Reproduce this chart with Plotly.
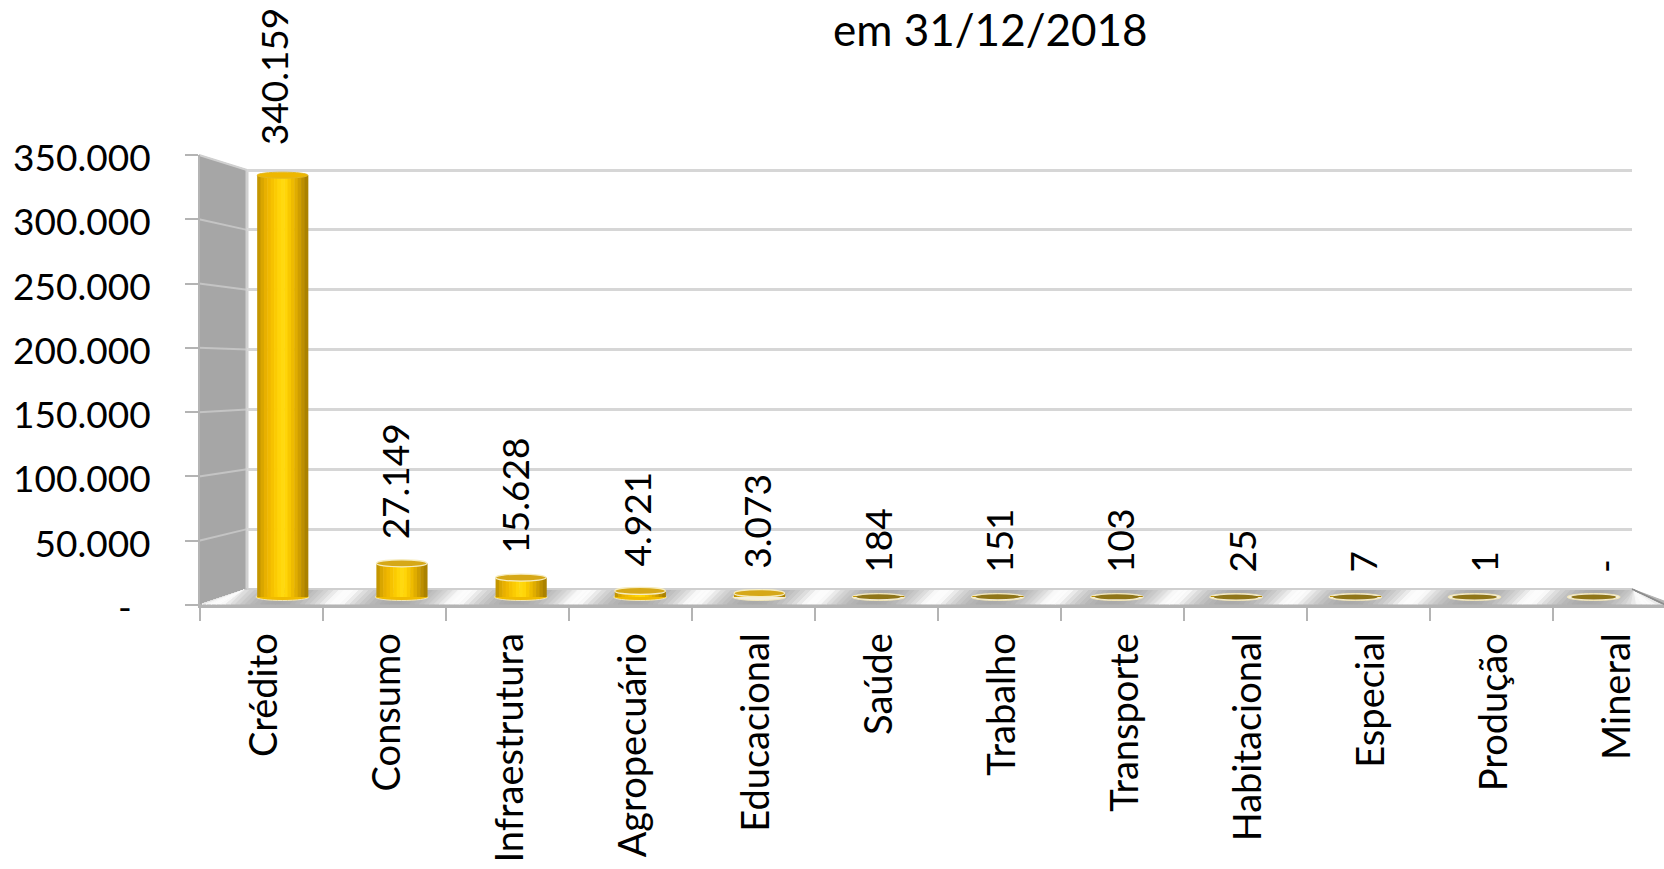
import plotly.graph_objects as go

W, H = 1664, 869
FONT = "Lato"

categories = ["Crédito", "Consumo", "Infraestrutura", "Agropecuário", "Educacional", "Saúde",
              "Trabalho", "Transporte", "Habitacional", "Especial", "Produção", "Mineral"]
values = [340159, 27149, 15628, 4921, 3073, 184, 151, 103, 25, 7, 1, 0]
value_labels = ["340.159", "27.149", "15.628", "4.921", "3.073", "184", "151", "103", "25", "7", "1", "-"]
y_ticks = [0, 50000, 100000, 150000, 200000, 250000, 300000, 350000]
y_tick_labels = ["-\u00a0\u00a0", "50.000", "100.000", "150.000", "200.000", "250.000", "300.000", "350.000"]
title = "em 31/12/2018"

# cylinder shading, left to right
strip_colors = ["#c49600", "#d9a600", "#e8b000", "#f0b800", "#f6c200", "#fbcb02", "#ffd408", "#ffd90f",
                "#ffd508", "#f8c800", "#eebb00", "#e0ad00", "#cf9e00", "#bd8f00", "#ab8200"]
BAR_W = 0.425


def px(x):
    return x / W


def py(y):
    return 1 - y / H


def poly(points, fill, line=None, lw=1, layer="below"):
    d = "M" + " L".join(f"{px(x):.5f},{py(y):.5f}" for x, y in points) + " Z"
    return dict(type="path", xref="paper", yref="paper", path=d, fillcolor=fill, layer=layer,
                line=dict(color=line or fill, width=lw))


def seg(x0, y0, x1, y1, color, lw):
    return dict(type="line", xref="paper", yref="paper", x0=px(x0), y0=py(y0), x1=px(x1), y1=py(y1),
                layer="below", line=dict(color=color, width=lw))


def mix(a, b, t):
    return "#" + "".join(f"{round(a[i] + (b[i] - a[i]) * t):02x}" for i in range(3))


shapes = []
# left wall
FRONT_TOP, FRONT_BOT, BACK_TOP, BACK_BOT = 155, 605, 170, 589
WALL_L, WALL_R, FLOOR_R = 199, 247, 1632
shapes.append(poly([(WALL_L, FRONT_TOP), (WALL_R, BACK_TOP), (WALL_R, BACK_BOT), (WALL_L, FRONT_BOT)], "#a6a6a6"))
for k in range(1, 7):
    yf = FRONT_BOT - (FRONT_BOT - FRONT_TOP) * k / 7
    yb = BACK_BOT - (BACK_BOT - BACK_TOP) * k / 7
    shapes.append(seg(WALL_L, yf, WALL_R, yb, "#c4c4c4", 2))
shapes.append(seg(WALL_L, FRONT_TOP, WALL_R, BACK_TOP, "#d0d0d0", 2))
shapes.append(seg(WALL_R, BACK_TOP, WALL_R, BACK_BOT, "#d0d0d0", 3))

# floor
BAR_X0, BAR_STEP = 282.5, 119.2
shapes.append(poly([(WALL_L, FRONT_BOT), (WALL_R, BACK_BOT), (FLOOR_R, BACK_BOT), (1680, FRONT_BOT + 2)], "#b4b4b4"))
SLANT = 14
grey, white = (170, 170, 170), (252, 252, 252)
N = 12
for i in range(-1, 12):
    centre = BAR_X0 + BAR_STEP * (i + 0.5)
    half = BAR_STEP / 2
    for s in range(-N, N):
        t0, t1 = s / N, (s + 1) / N
        a = 1 - abs((t0 + t1) / 2)
        xa, xb = centre + t0 * half, centre + t1 * half
        pts = [(xa - SLANT / 2, FRONT_BOT - 1), (xa + SLANT / 2, BACK_BOT + 1),
               (xb + SLANT / 2, BACK_BOT + 1), (xb - SLANT / 2, FRONT_BOT - 1)]
        pts = [(max(x, WALL_L + (FRONT_BOT - y) * 3), y) for x, y in pts]
        pts = [(min(x, FLOOR_R + (y - BACK_BOT) * 2.1), y) for x, y in pts]
        shapes.append(poly(pts, mix(grey, white, min(1, a ** 2 * 1.25))))
shapes.append(seg(WALL_R, BACK_BOT, FLOOR_R, BACK_BOT, "#cfcfcf", 2))
shapes.append(seg(FLOOR_R, BACK_BOT, 1670, FRONT_BOT + 2, "#8c8c8c", 1.5))

# cylinder ends
for i, v in enumerate(values):
    big = v > 4000
    shapes.append(dict(type="circle", xref="x2", yref="y3", x0=i - BAR_W / 2 - 0.01, x1=i + BAR_W / 2 + 0.01,
                       ysizemode="pixel", yanchor=0, y0=-3.5, y1=3.5, layer="below",
                       fillcolor="#f0bb00" if big else "#f4efdc", line=dict(color="#f3e7b8", width=1)))
    if v > 100000:
        shapes.append(dict(type="circle", xref="x2", yref="y3", x0=i - BAR_W / 2, x1=i + BAR_W / 2,
                           ysizemode="pixel", yanchor=v, y0=-3, y1=3, layer="above",
                           fillcolor="#eeb700", line=dict(color="#e4b820", width=1)))
    elif v > 1000:
        shapes.append(dict(type="circle", xref="x2", yref="y3", x0=i - BAR_W / 2, x1=i + BAR_W / 2,
                           ysizemode="pixel", yanchor=v, y0=-3.5, y1=3.5, layer="above",
                           fillcolor="#d6a818", line=dict(color="#f6ecc0", width=1.2)))
    else:
        shapes.append(dict(type="circle", xref="x2", yref="y3", x0=i - BAR_W / 2 + 0.025, x1=i + BAR_W / 2 - 0.025,
                           ysizemode="pixel", yanchor=v, y0=-2.5, y1=2.5, layer="above",
                           fillcolor="#8f7518", line=dict(color="#8f7518", width=0)))

fig = go.Figure()

# front axis (labels and ticks), back wall gridlines and label axis carry no visible marks
for xa, ya in (("x", "y"), ("x2", "y2"), ("x3", "y3")):
    fig.add_trace(go.Scatter(x=categories, y=values, xaxis=xa, yaxis=ya, mode="markers",
                             marker=dict(opacity=0), hoverinfo="skip", showlegend=False))

n = len(strip_colors)
sw = BAR_W / n
for k, c in enumerate(strip_colors):
    fig.add_trace(go.Bar(x=categories, y=values, xaxis="x2", yaxis="y3", width=sw * 1.15,
                         offset=-BAR_W / 2 + k * sw, marker=dict(color=c, line=dict(width=0)),
                         hoverinfo="skip", showlegend=False))

annotations = [dict(x=i, y=v, xref="x3", yref="y3", text=t, textangle=-90, showarrow=False,
                    yanchor="bottom", xanchor="center", yshift=28 if v == values[0] else 22,
                    font=dict(family=FONT, size=37, color="#000000"))
               for i, (v, t) in enumerate(zip(values, value_labels))]
annotations.append(dict(x=990 / W, y=py(29), xref="paper", yref="paper", text=title, showarrow=False,
                        xanchor="center", yanchor="middle", font=dict(family=FONT, size=44, color="#000000")))

AX_GREY = "#b4b4b4"
BAR_ZERO, BAR_TOP, BAR_LOW = 597, 163, 612
bar_unit = 350000 / (BAR_ZERO - BAR_TOP)
back_unit = 350000 / (BACK_BOT - BACK_TOP)
BACK_PAD = 4

fig.update_layout(
    width=W, height=H, margin=dict(l=0, r=0, t=0, b=0, autoexpand=False), paper_bgcolor="white",
    plot_bgcolor="rgba(0,0,0,0)",
    barmode="overlay", showlegend=False, font=dict(family=FONT, color="#000000"),
    xaxis=dict(type="category", categoryorder="array", categoryarray=categories, domain=[px(200), 1],
               range=[-0.5, (W - 200) / 123 - 0.5], anchor="y", tickson="boundaries", ticks="outside", ticklen=13,
               tickwidth=2, tickcolor=AX_GREY, showline=True, linecolor=AX_GREY, linewidth=3, showgrid=False,
               tickangle=-90, tickfont=dict(family=FONT, size=38, color="#000000"), ticklabelstandoff=10,
               ticklabelshift=3),
    yaxis=dict(domain=[py(FRONT_BOT), py(FRONT_TOP)], range=[0, 350000], anchor="x", tickvals=y_ticks,
               ticktext=y_tick_labels, ticks="outside", ticklen=13, tickwidth=2, tickcolor=AX_GREY, showline=True,
               linecolor=AX_GREY, linewidth=2, showgrid=False, zeroline=False, ticklabelstandoff=27,
               ticklabelshift=3, tickfont=dict(family=FONT, size=37, color="#000000")),
    xaxis2=dict(type="category", categoryorder="array", categoryarray=categories,
                domain=[px(WALL_R), px(FLOOR_R)],
                range=[(WALL_R - BAR_X0) / BAR_STEP, (FLOOR_R - BAR_X0) / BAR_STEP],
                anchor="y2", visible=False),
    yaxis2=dict(domain=[py(BACK_BOT), py(BACK_TOP - BACK_PAD)], range=[0, 350000 + BACK_PAD * back_unit], anchor="x2",
                tickvals=y_ticks, showticklabels=False, ticks="", showgrid=True, gridcolor="#d6d6d6", gridwidth=2.5,
                zeroline=False, showline=False),
    yaxis3=dict(domain=[py(BAR_LOW), py(BAR_TOP)], range=[-(BAR_LOW - BAR_ZERO) * bar_unit, 350000], anchor="x2",
                visible=False),
    xaxis3=dict(type="category", categoryorder="array", categoryarray=categories, domain=[0, 1],
                range=[(0 - 273) / 121, (W - 273) / 121], anchor="y3", visible=False),
    shapes=shapes, annotations=annotations,
)

fig.write_html("out.html", config={"displayModeBar": False},
               post_script="document.body.style.margin='0';document.documentElement.style.overflow='hidden';")
